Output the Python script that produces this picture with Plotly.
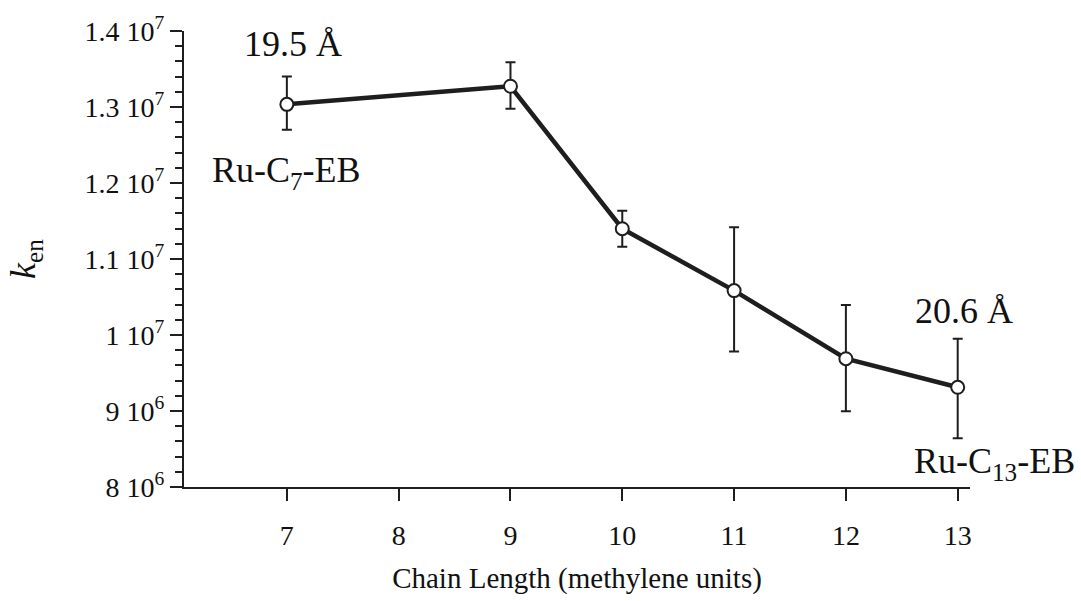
import plotly.graph_objects as go

# Energy-transfer rate constant versus tether chain length
chain_length = [7, 9, 10, 11, 12, 13]
k_en = [1.3035e7, 1.3273e7, 1.1399e7, 1.0584e7, 9.688e6, 9.312e6]
err_plus = [0.365e6, 0.315e6, 0.237e6, 0.835e6, 0.706e6, 0.64e6]
err_minus = [0.335e6, 0.295e6, 0.239e6, 0.801e6, 0.692e6, 0.672e6]

y_tickvals = [8e6, 9e6, 1e7, 1.1e7, 1.2e7, 1.3e7, 1.4e7]
y_ticktext = ["8 10<sup>6</sup>", "9 10<sup>6</sup>", "1 10<sup>7</sup>",
              "1.1 10<sup>7</sup>", "1.2 10<sup>7</sup>", "1.3 10<sup>7</sup>",
              "1.4 10<sup>7</sup>"]
x_tickvals = [7, 8, 9, 10, 11, 12, 13]

SERIF = "Liberation Serif, Times New Roman, serif"
INK = "#1e1e1e"

fig = go.Figure()
fig.add_trace(go.Scatter(
    x=chain_length, y=k_en,
    mode="lines+markers",
    line=dict(color=INK, width=4.5),
    marker=dict(symbol="circle", size=13, color="white",
                line=dict(color=INK, width=2)),
    error_y=dict(type="data", symmetric=False, array=err_plus,
                 arrayminus=err_minus, color=INK, thickness=2, width=5),
    showlegend=False,
))

annotations = [
    dict(x=7, y=1.3035e7, text="19.5 Å", yshift=60, xshift=6),
    dict(x=7, y=1.3035e7, text="Ru-C<sub>7</sub>-EB", yshift=-68),
    dict(x=13, y=9.312e6, text="20.6 Å", yshift=76, xshift=6),
    dict(x=13, y=9.312e6, text="Ru-C<sub>13</sub>-EB", yshift=-76, xshift=37),
]
for a in annotations:
    fig.add_annotation(**a, xref="x", yref="y", showarrow=False,
                       font=dict(family=SERIF, size=36, color="#111"))

fig.update_xaxes(
    range=[6.08, 13.11],
    tickvals=x_tickvals,
    ticks="outside", ticklen=12, tickwidth=2, tickcolor=INK,
    ticklabelstandoff=10,
    showline=True, linecolor=INK, linewidth=2,
    showgrid=False, zeroline=False,
    tickfont=dict(family=SERIF, size=28, color="#111"),
    title=dict(text="Chain Length (methylene units)",
               font=dict(family=SERIF, size=29, color="#111"), standoff=18),
)
fig.update_yaxes(
    range=[8e6, 1.4e7],
    tickvals=y_tickvals, ticktext=y_ticktext,
    ticks="outside", ticklen=12, tickwidth=2, tickcolor=INK,
    minor=dict(dtick=2e5, ticks="outside", ticklen=7, tickwidth=2,
               tickcolor=INK, showgrid=False),
    showline=True, linecolor=INK, linewidth=2,
    showgrid=False, zeroline=False,
    tickfont=dict(family=SERIF, size=28, color="#111"),
    title=dict(text="<i>k</i><sub>en</sub>",
               font=dict(family=SERIF, size=36, color="#111"), standoff=38),
)

fig.update_layout(
    width=1081, height=601,
    margin=dict(l=184, r=111, t=29, b=110),
    paper_bgcolor="white", plot_bgcolor="white",
)

fig.write_html("out.html")
